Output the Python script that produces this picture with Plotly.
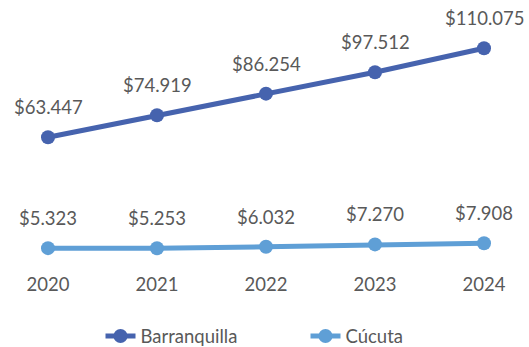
import plotly.graph_objects as go

years = ["2020", "2021", "2022", "2023", "2024"]
barranquilla = [63447, 74919, 86254, 97512, 110075]
cucuta = [5323, 5253, 6032, 7270, 7908]

series = [
    ("Barranquilla", barranquilla, "#4663AE"),
    ("Cúcuta", cucuta, "#5F9FD6"),
]

FONT = "Lato"
TEXT_COLOR = "#595959"


def money(v):
    # Spanish-style thousands separator
    return "$" + f"{v:,}".replace(",", ".")


fig = go.Figure()
annotations = []
for name, vals, color in series:
    fig.add_trace(go.Scatter(
        x=list(range(len(years))), y=vals, name=name,
        mode="lines+markers",
        line=dict(color=color, width=5),
        marker=dict(color=color, size=14),
    ))
    for i, v in enumerate(vals):
        annotations.append(dict(
            x=i, y=v, text=money(v), showarrow=False,
            yshift=30, font=dict(family=FONT, size=18.5, color=TEXT_COLOR),
        ))

# pixel geometry of the plot area
px_per_unit = 109.0
x0_px = 48.0
W, H = 529, 347
top, bottom = 20, 270
val_per_px = 1 / 0.0019087
zero_px = 258.3

fig.update_layout(
    width=W, height=H,
    margin=dict(l=0, r=0, t=top, b=H - bottom, autoexpand=False),
    paper_bgcolor="white", plot_bgcolor="white",
    showlegend=True,
    legend=dict(orientation="h", x=0.19, xanchor="left", y=-0.19, yanchor="top",
                font=dict(family=FONT, size=18.5, color=TEXT_COLOR),
                entrywidth=160, entrywidthmode="pixels"),
    annotations=annotations,
    xaxis=dict(
        range=[-x0_px / px_per_unit, (W - x0_px) / px_per_unit],
        tickmode="array", tickvals=list(range(len(years))), ticktext=years,
        showgrid=False, zeroline=False, showline=False,
        tickfont=dict(family=FONT, size=18.5, color=TEXT_COLOR),
        ticklabelstandoff=1,
    ),
    yaxis=dict(
        range=[(zero_px - bottom) * val_per_px, (zero_px - top) * val_per_px],
        visible=False,
    ),
)

fig.write_html("out.html")
